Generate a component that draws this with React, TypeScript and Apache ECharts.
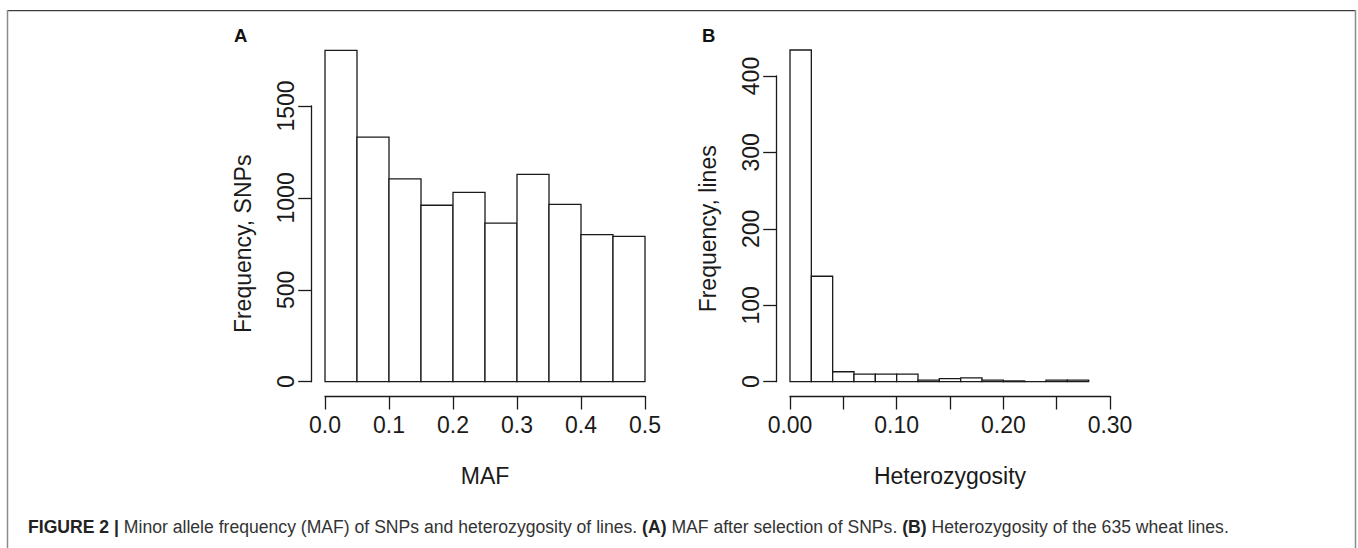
import React, { useEffect, useRef } from "react";
import * as echarts from "echarts";

// Panel A: MAF histogram (bin width 0.05)
const MAF_BREAKS = [0, 0.05, 0.1, 0.15, 0.2, 0.25, 0.3, 0.35, 0.4, 0.45, 0.5];
const MAF_COUNTS = [1803, 1331, 1103, 960, 1030, 863, 1128, 965, 800, 791];
const MAF_Y_TICKS = [0, 500, 1000, 1500];
const MAF_X_TICKS = [0, 0.1, 0.2, 0.3, 0.4, 0.5];

// Panel B: Heterozygosity histogram (bin width 0.02)
const HET_BREAKS = [0, 0.02, 0.04, 0.06, 0.08, 0.1, 0.12, 0.14, 0.16, 0.18, 0.2, 0.22, 0.24, 0.26, 0.28];
const HET_COUNTS = [434, 138, 13, 10, 10, 10, 2, 4, 5, 2, 1, 0, 2, 2];
const HET_Y_TICKS = [0, 100, 200, 300, 400];
const HET_X_TICKS = [0, 0.05, 0.1, 0.15, 0.2, 0.25, 0.3];

const CAPTION_PARTS: [string, string][] = [
  ["b", "FIGURE 2 |"],
  ["n", " Minor allele frequency (MAF) of SNPs and heterozygosity of lines. "],
  ["b", "(A)"],
  ["n", " MAF after selection of SNPs. "],
  ["b", "(B)"],
  ["n", " Heterozygosity of the 635 wheat lines."],
];

const FONT = "'Liberation Sans', Arial, Helvetica, sans-serif";
const INK = "#1a1a1a";
const LW = 1.3;

function bins(breaks: number[], counts: number[]) {
  return counts.map((c, i) => [breaks[i], breaks[i + 1], c]);
}

const renderBin = (params: any, api: any) => {
  const p0 = api.coord([api.value(0), api.value(2)]);
  const p1 = api.coord([api.value(1), 0]);
  return {
    type: "rect",
    shape: { x: p0[0], y: p0[1], width: p1[0] - p0[0], height: p1[1] - p0[1] },
    style: { fill: "#ffffff", stroke: INK, lineWidth: LW },
  };
};

export default function App() {
  const ref = useRef<HTMLDivElement>(null);
  useEffect(() => {
    if (!ref.current) return;
    const chart = echarts.init(ref.current, undefined, { renderer: "svg" });

    // layout (pixels)
    const baseY = 381.7;
    const xAxisY = 396;
    // Panel A
    const aLeft = 325, aWidth = 320, aAxisX = 311.7, aTopTick = 106;
    const aTopVal = MAF_Y_TICKS[MAF_Y_TICKS.length - 1];
    const aPer = (baseY - aTopTick) / aTopVal;
    const aMax = 1900;
    // Panel B
    const bLeft = 790, bWidth = 320, bAxisX = 776.7, bTopTick = 76;
    const bTopVal = HET_Y_TICKS[HET_Y_TICKS.length - 1];
    const bPer = (baseY - bTopTick) / bTopVal;
    const bMax = 450;

    const tickStyle = { show: true, length: 13.5, lineStyle: { color: INK, width: LW } };
    const lineStyle = { show: true, lineStyle: { color: INK, width: LW } };
    const labelBase = { color: INK, fontSize: 23, fontFamily: FONT };
    const nameStyle = { color: INK, fontSize: 23, fontFamily: FONT };

    const richCaption: any = {
      b: { fontFamily: FONT, fontSize: 17.6, fontWeight: "bold", fill: "#222" },
      n: { fontFamily: FONT, fontSize: 17.6, fill: "#333" },
    };
    const captionText = CAPTION_PARTS.map(([k, t]) => `{${k}|${t}}`).join("");

    const hiddenY = (gi: number) => ({ gridIndex: gi, type: "value", show: false, splitLine: { show: false } });

    chart.setOption({
      animation: false,
      backgroundColor: "#ffffff",
      grid: [
        // 0: A bars
        { left: aLeft, top: baseY - aMax * aPer, width: aWidth, height: aMax * aPer },
        // 1: A y axis
        { left: aAxisX, top: aTopTick, width: 1, height: baseY - aTopTick },
        // 2: B bars
        { left: bLeft, top: baseY - bMax * bPer, width: bWidth, height: bMax * bPer },
        // 3: B y axis
        { left: bAxisX, top: bTopTick, width: 1, height: baseY - bTopTick },
        // 4: A x axis
        { left: aLeft, top: xAxisY - 10, width: aWidth, height: 10 },
        // 5: B x axis
        { left: bLeft, top: xAxisY - 10, width: bWidth, height: 10 },
      ],
      xAxis: [
        {
          gridIndex: 0,
          type: "value",
          min: MAF_X_TICKS[0],
          max: MAF_X_TICKS[MAF_X_TICKS.length - 1],
          show: false,
          splitLine: { show: false },
        },
        { gridIndex: 1, type: "value", show: false, splitLine: { show: false } },
        {
          gridIndex: 2,
          type: "value",
          min: HET_X_TICKS[0],
          max: HET_X_TICKS[HET_X_TICKS.length - 1],
          show: false,
          splitLine: { show: false },
        },
        { gridIndex: 3, type: "value", show: false, splitLine: { show: false } },
        {
          gridIndex: 4,
          type: "value",
          position: "bottom",
          min: MAF_X_TICKS[0],
          max: MAF_X_TICKS[MAF_X_TICKS.length - 1],
          interval: 0.1,
          axisLine: lineStyle,
          axisTick: tickStyle,
          splitLine: { show: false },
          axisLabel: { ...labelBase, margin: 17, formatter: (v: number) => v.toFixed(1) },
          name: "MAF",
          nameLocation: "middle",
          nameGap: 68,
          nameTextStyle: nameStyle,
        },
        {
          gridIndex: 5,
          type: "value",
          position: "bottom",
          min: HET_X_TICKS[0],
          max: HET_X_TICKS[HET_X_TICKS.length - 1],
          interval: 0.05,
          axisLine: lineStyle,
          axisTick: tickStyle,
          splitLine: { show: false },
          axisLabel: {
            ...labelBase,
            margin: 17,
            showMinLabel: true,
            showMaxLabel: true,
            formatter: (v: number) => {
              const k = Math.round(v * 100);
              return k % 10 === 0 ? (k / 100).toFixed(2) : "";
            },
          },
          name: "Heterozygosity",
          nameLocation: "middle",
          nameGap: 68,
          nameTextStyle: nameStyle,
        },
      ],
      yAxis: [
        { gridIndex: 0, type: "value", min: 0, max: aMax, show: false, splitLine: { show: false } },
        {
          gridIndex: 1,
          type: "value",
          min: MAF_Y_TICKS[0],
          max: aTopVal,
          interval: 500,
          axisLine: lineStyle,
          axisTick: tickStyle,
          splitLine: { show: false },
          axisLabel: { ...labelBase, rotate: 90, margin: 14, formatter: (v: number) => String(v) },
          name: "Frequency, SNPs",
          nameLocation: "middle",
          nameRotate: 90,
          nameGap: 57,
          nameTextStyle: nameStyle,
        },
        { gridIndex: 2, type: "value", min: 0, max: bMax, show: false, splitLine: { show: false } },
        {
          gridIndex: 3,
          type: "value",
          min: HET_Y_TICKS[0],
          max: bTopVal,
          interval: 100,
          axisLine: lineStyle,
          axisTick: tickStyle,
          splitLine: { show: false },
          axisLabel: { ...labelBase, rotate: 90, margin: 14, formatter: (v: number) => String(v) },
          name: "Frequency, lines",
          nameLocation: "middle",
          nameRotate: 90,
          nameGap: 57,
          nameTextStyle: nameStyle,
        },
        hiddenY(4),
        hiddenY(5),
      ],
      series: [
        {
          type: "custom",
          xAxisIndex: 0,
          yAxisIndex: 0,
          renderItem: renderBin,
          encode: { x: [0, 1], y: 2 },
          data: bins(MAF_BREAKS, MAF_COUNTS),
          silent: true,
        },
        {
          type: "custom",
          xAxisIndex: 2,
          yAxisIndex: 2,
          renderItem: renderBin,
          encode: { x: [0, 1], y: 2 },
          data: bins(HET_BREAKS, HET_COUNTS),
          silent: true,
        },
      ],
      graphic: [
        { type: "line", shape: { x1: 7, y1: 10.7, x2: 1356, y2: 10.7 }, style: { stroke: "#3c3c3c", lineWidth: 1.2 } },
        { type: "line", shape: { x1: 7.5, y1: 10, x2: 7.5, y2: 548 }, style: { stroke: "#8a8a8a", lineWidth: 1.5 } },
        { type: "line", shape: { x1: 1355.5, y1: 10, x2: 1355.5, y2: 548 }, style: { stroke: "#8a8a8a", lineWidth: 1.5 } },
        {
          type: "text",
          left: 234,
          top: 26,
          style: { text: "A", fontFamily: FONT, fontSize: 18.5, fontWeight: "bold", fill: "#111" },
        },
        {
          type: "text",
          left: 702,
          top: 26,
          style: { text: "B", fontFamily: FONT, fontSize: 18.5, fontWeight: "bold", fill: "#111" },
        },
        {
          type: "text",
          left: 28,
          top: 518,
          style: { text: captionText, rich: richCaption, fontFamily: FONT, fontSize: 17.6, fill: "#333" },
        },
      ],
    });
    return () => chart.dispose();
  }, []);

  return (
    <div
      ref={ref}
      style={{ position: "fixed", left: 0, top: 0, width: 1358, height: 548, background: "#fff" }}
    />
  );
}
